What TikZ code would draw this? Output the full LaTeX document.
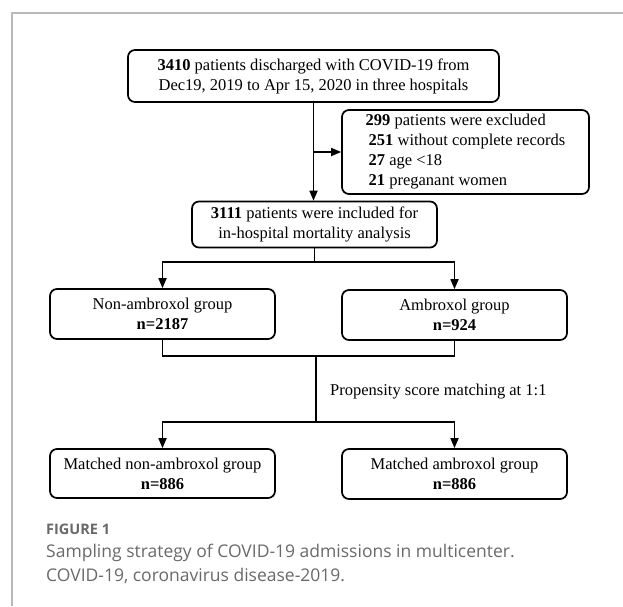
\documentclass[tikz,border=0pt]{standalone}
\usepackage{fontspec}
\setmainfont{Liberation Serif}
\newfontfamily\capfont{Open Sans}
\usetikzlibrary{
	positioning,
	arrows.meta
}
\definecolor{FrameGray}{RGB}{185,185,185}
\definecolor{CaptionGray}{RGB}{105,105,105}

\begin{document}
\begin{tikzpicture}[
	x=1pt,
	y=-1pt,
	flowbox/.style={
		draw,
		line width=1.7pt,
		rounded corners=7pt,
		align=center,
		inner sep=0pt,
		font=\fontsize{16.5}{20}\selectfont
	},
	flowline/.style={
		line width=1.7pt
	},
	flowarrow/.style={
		line width=1.7pt,
		-{Triangle[width=8pt,length=10pt]}
	},
	captext/.style={
		anchor=west,
		inner sep=0pt,
		text=CaptionGray,
		font=\capfont\fontsize{17.5}{22}\selectfont
	}
	]
	
	\useasboundingbox (0,0) rectangle (623,606);
	
	\draw[
	FrameGray,
	line width=2pt
	]
	(12,606) -- (12,13) -- (623,13);
	
	\node[
	flowbox,
	minimum width=371pt,
	minimum height=52pt
	]
	(DISCH) at (313.5,76)
	{\textbf{3410} patients discharged with COVID-19 from\\Dec19, 2019 to Apr 15, 2020 in three hospitals};
	
	\node[
	flowbox,
	align=left,
	minimum width=247pt,
	minimum height=84pt
	]
	(EXCL) at (465.5,152)
	{\textbf{299} patients were excluded\\
		\hspace*{3pt}\textbf{251} without complete records\\
		\hspace*{3pt}\textbf{27} age \textless18\\
		\hspace*{3pt}\textbf{21} preganant women};
	
	\node[
	flowbox,
	minimum width=245pt,
	minimum height=46pt
	]
	(INCL) at (314.5,224.5)
	{\textbf{3111} patients were included for\\in-hospital mortality analysis};
	
	\node[
	flowbox,
	minimum width=225pt,
	minimum height=50pt
	]
	(NONAMB) at (162.5,314)
	{Non-ambroxol group\\\textbf{n=2187}};
	
	\node[
	flowbox,
	minimum width=225pt,
	minimum height=50pt
	]
	(AMB) at (454.5,315)
	{Ambroxol group\\\textbf{n=924}};
	
	\node[
	anchor=west,
	inner sep=0pt,
	font=\fontsize{16.5}{20}\selectfont
	]
	(PSM) at (330,392)
	{Propensity score matching at 1:1};
	
	\node[
	flowbox,
	minimum width=225pt,
	minimum height=49pt
	]
	(MNONAMB) at (162.5,473.5)
	{Matched non-ambroxol group\\\textbf{n=886}};
	
	\node[
	flowbox,
	minimum width=225pt,
	minimum height=50pt
	]
	(MAMB) at (454.5,474)
	{Matched ambroxol group\\\textbf{n=886}};
	
	\coordinate (SIDE) at (DISCH.south |- EXCL.west);
	\coordinate (SPLITA) at (INCL.south |- 0,262);
	\coordinate (MERGE) at (316,356);
	\coordinate (SPLITB) at (316,422);
	
	\draw[
	flowarrow
	]
	(DISCH.south) -- (DISCH.south |- INCL.north);
	
	\draw[
	flowarrow
	]
	(SIDE) -- (EXCL.west);
	
	\draw[
	flowline
	]
	(INCL.south) -- (SPLITA);
	
	\draw[
	flowarrow
	]
	(SPLITA) -| (NONAMB.north);
	
	\draw[
	flowarrow
	]
	(SPLITA) -| (AMB.north);
	
	\draw[
	flowline
	]
	(NONAMB.south) |- (MERGE) -| (AMB.south);
	
	\draw[
	flowline
	]
	(MERGE) -- (SPLITB);
	
	\draw[
	flowarrow
	]
	(SPLITB) -| (MNONAMB.north);
	
	\draw[
	flowarrow
	]
	(SPLITB) -| (MAMB.north);
	
	\node[
	captext,
	font=\capfont\bfseries\fontsize{14.5}{18}\selectfont
	]
	(FIGNUM) at (46,529)
	{FIGURE 1};
	
	\node[
	captext
	]
	(CAPONE) at (46,553)
	{Sampling strategy of COVID-19 admissions in multicenter.};
	
	\node[
	captext
	]
	(CAPTWO) at (46,576)
	{COVID-19, coronavirus disease-2019.};
	
\end{tikzpicture}
\end{document}
